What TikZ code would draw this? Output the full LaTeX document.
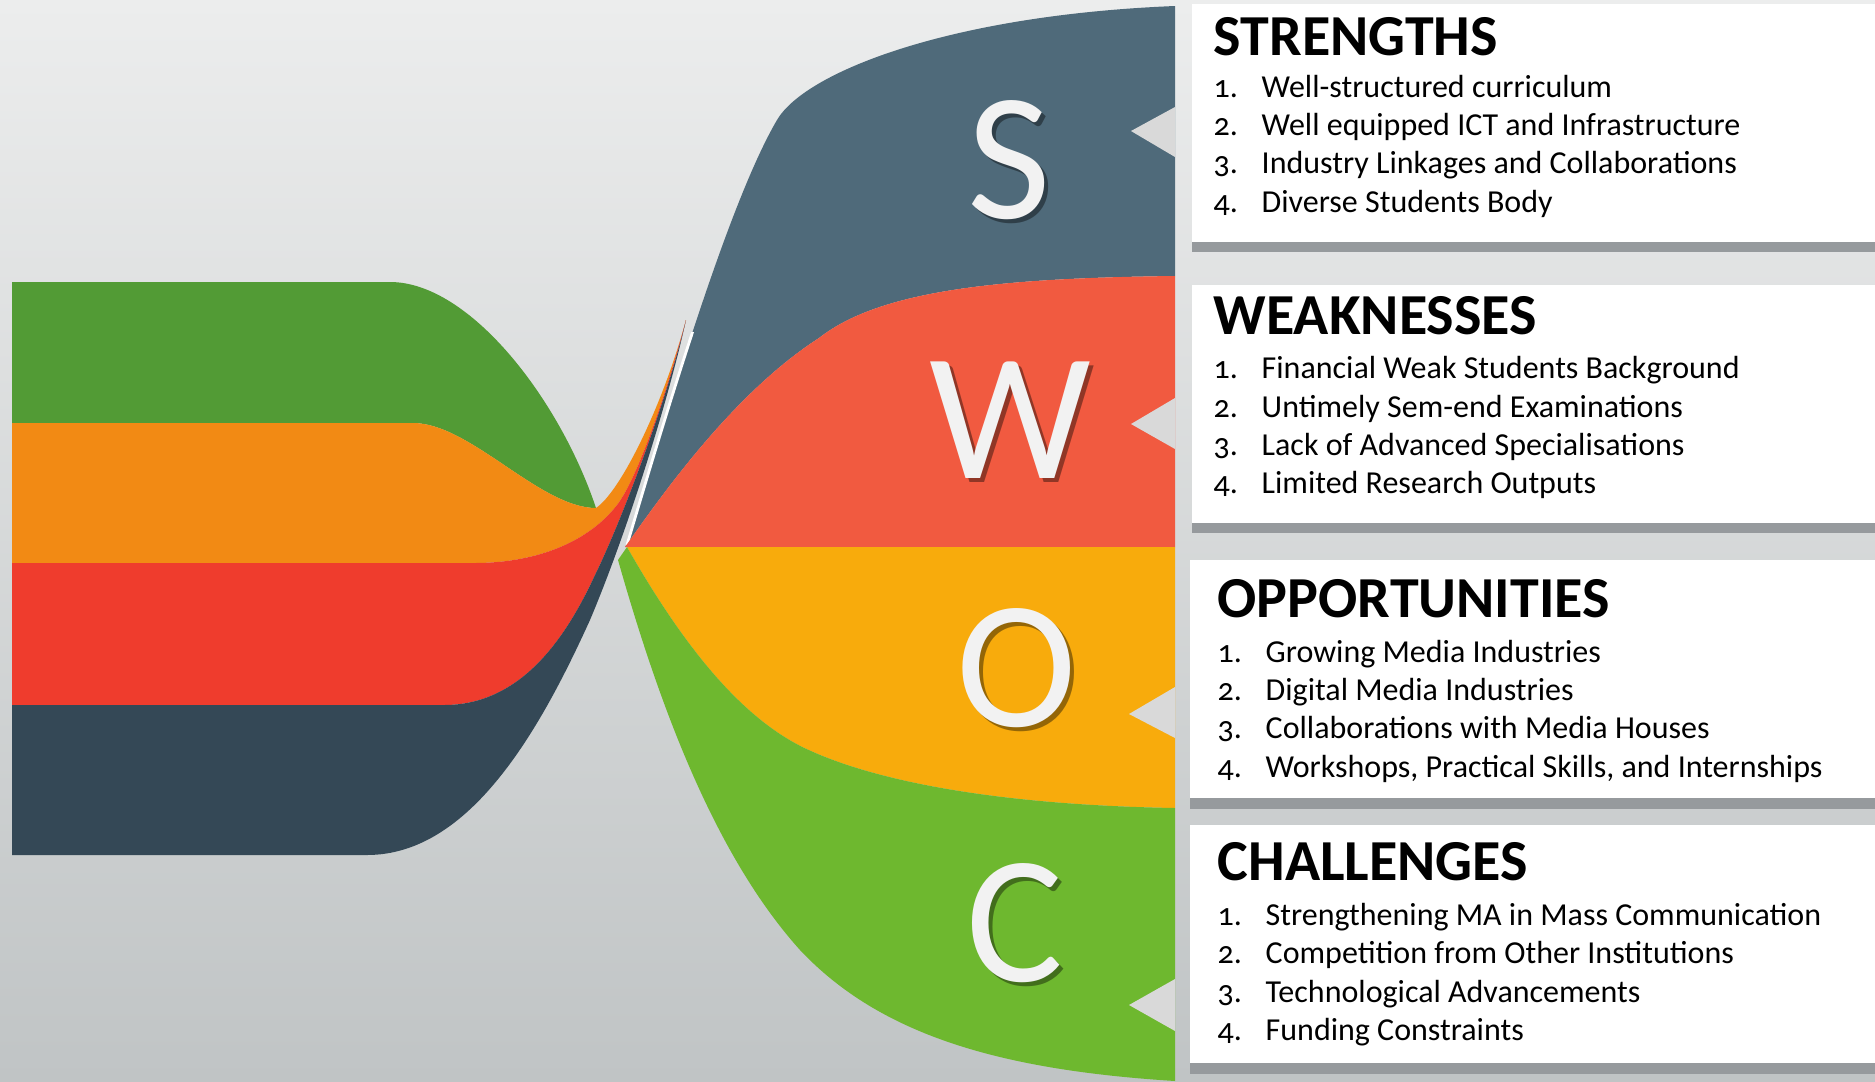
\documentclass[tikz,border=0pt]{standalone}
\usepackage{fontspec}
\setmainfont{Carlito}[Numbers=OldStyle]
\definecolor{bgtop}{HTML}{ECEDED}
\definecolor{bgmid}{HTML}{E5E7E7}
\definecolor{bgbot}{HTML}{C0C4C5}
\definecolor{lgreen}{HTML}{529B35}
\definecolor{lorange}{HTML}{F28A14}
\definecolor{lred}{HTML}{EF3C2D}
\definecolor{ldark}{HTML}{344856}
\definecolor{cS}{HTML}{4F6A7A}
\definecolor{cW}{HTML}{F15A40}
\definecolor{cO}{HTML}{F8AB0C}
\definecolor{cC}{HTML}{6EB82F}
\definecolor{tri}{HTML}{D9D9D9}
\definecolor{barc}{HTML}{969A9D}
\definecolor{letterc}{HTML}{F2F2F2}
\begin{document}
\begin{tikzpicture}[x=0.01cm,y=-0.01cm,
  titletext/.style={anchor=base west, inner sep=0pt, font=\fontsize{16.5pt}{19pt}\selectfont\bfseries},
  numtext/.style={anchor=base west, inner sep=0pt, font=\fontsize{9.1pt}{11pt}\selectfont},
  itemtext/.style={numtext},
  bigletter/.style={inner sep=0pt, font=\fontsize{51.7pt}{60pt}\selectfont, text=letterc},
  bigshadow/.style={inner sep=0pt, font=\fontsize{51.7pt}{60pt}\selectfont, text=black, text opacity=0.4},
  panel/.style={fill=white},
  panelbar/.style={fill=barc},
  pointer/.style={fill=tri}]
\useasboundingbox (0,0) rectangle (1875,1081);
% background
\shade[top color=bgtop, middle color=bgmid, bottom color=bgbot] (0,0) rectangle (1875,1081);
% left bands
\fill[lgreen] (12,282) -- (390,282) .. controls (470,282) and (560,400) .. (596,508)
  .. controls (540,508) and (470,423) .. (413,423) -- (12,423) -- cycle;
\fill[lorange] (12,423) -- (413,423) .. controls (470,423) and (540,508) .. (596,508)
  .. controls (620,492) and (662,408) .. (686,320)
  .. controls (665,398) and (637,479) .. (617,505)
  .. controls (590,540) and (540,563) .. (474,563) -- (12,563) -- cycle;
\fill[lred] (12,563) -- (474,563) .. controls (540,563) and (590,540) .. (617,505)
  .. controls (637,479) and (665,398) .. (686,320)
  .. controls (667,400) and (622,520) .. (595,575)
  .. controls (565,640) and (520,705) .. (444,705) -- (12,705) -- cycle;
\fill[ldark] (12,705) -- (444,705) .. controls (520,705) and (565,640) .. (595,575)
  .. controls (622,520) and (667,400) .. (686,320)
  .. controls (669,398) and (628,530) .. (590,620)
  .. controls (540,730) and (470,855) .. (367,855) -- (12,855) -- cycle;
% right fan
\fill[cS] (627,545) .. controls (670,400) and (730,200) .. (777,120)
  .. controls (805,72) and (950,15) .. (1175,6) -- (1175,276)
  .. controls (1000,278) and (880,290) .. (819,338)
  .. controls (730,395) and (655,505) .. (625,547) -- cycle;
\begin{scope}
  \clip (0,332) rectangle (760,560);
  \draw[white, line width=0.8pt] (627,545) .. controls (670,400) and (730,200) .. (777,120);
\end{scope}
\fill[cW] (625,547) .. controls (655,505) and (730,395) .. (819,338)
  .. controls (880,290) and (1000,278) .. (1175,276) -- (1175,547) -- cycle;
\fill[cO] (627,547) -- (1175,547) -- (1175,808)
  .. controls (1000,805) and (880,782) .. (811,751)
  .. controls (740,720) and (680,640) .. (627,547) -- cycle;
\fill[cC] (627,547) .. controls (680,640) and (740,720) .. (811,751)
  .. controls (880,782) and (1000,805) .. (1175,808) -- (1175,1081)
  .. controls (1000,1070) and (880,1035) .. (800,950)
  .. controls (710,850) and (655,690) .. (618,560) -- cycle;
% pointers
\fill[pointer] (1131,131) -- (1175,107) -- (1175,157) -- cycle;
\fill[pointer] (1131,424) -- (1175,398) -- (1175,449) -- cycle;
\fill[pointer] (1129,714) -- (1175,687) -- (1175,738) -- cycle;
\fill[pointer] (1129,1005) -- (1175,979) -- (1175,1031) -- cycle;
% big letters
\node[bigshadow] (Ssh) at (1013,164) {S};
\node[bigletter] (S) at (1009,160) {S};
\node[bigshadow] (Wsh) at (1014,424) {W};
\node[bigletter] (W) at (1010,420) {W};
\node[bigshadow] (Osh) at (1021,672) {O};
\node[bigletter] (O) at (1017,668) {O};
\node[bigshadow] (Csh) at (1019,927) {C};
\node[bigletter] (C) at (1015,923) {C};
% panels
\fill[panel] (1192,4) rectangle (1875,242);
\fill[panelbar] (1192,242) rectangle (1875,252);
\fill[panel] (1192,285) rectangle (1875,523);
\fill[panelbar] (1192,523) rectangle (1875,533);
\fill[panel] (1190,560) rectangle (1875,798);
\fill[panelbar] (1190,798) rectangle (1875,809);
\fill[panel] (1190,825) rectangle (1875,1063);
\fill[panelbar] (1190,1063) rectangle (1875,1074);
% strengths
\node[titletext] (st) at (1213,55) {STRENGTHS};
\node[numtext] (s1n) at (1213,97) {1.};
\node[itemtext] (s1) at (1261,97) {Well-structured curriculum};
\node[numtext] (s2n) at (1213,135) {2.};
\node[itemtext] (s2) at (1261,135) {Well equipped ICT and Infrastructure};
\node[numtext] (s3n) at (1213,173) {3.};
\node[itemtext] (s3) at (1261,173) {Industry Linkages and Collaborations};
\node[numtext] (s4n) at (1213,212) {4.};
\node[itemtext] (s4) at (1261,212) {Diverse Students Body};
% weaknesses
\node[titletext] (wt) at (1213,334) {WEAKNESSES};
\node[numtext] (w1n) at (1213,378) {1.};
\node[itemtext] (w1) at (1261,378) {Financial Weak Students Background};
\node[numtext] (w2n) at (1213,417) {2.};
\node[itemtext] (w2) at (1261,417) {Untimely Sem-end Examinations};
\node[numtext] (w3n) at (1213,455) {3.};
\node[itemtext] (w3) at (1261,455) {Lack of Advanced Specialisations};
\node[numtext] (w4n) at (1213,493) {4.};
\node[itemtext] (w4) at (1261,493) {Limited Research Outputs};
% opportunities
\node[titletext] (ot) at (1217,617) {OPPORTUNITIES};
\node[numtext] (o1n) at (1217,662) {1.};
\node[itemtext] (o1) at (1265,662) {Growing Media Industries};
\node[numtext] (o2n) at (1217,700) {2.};
\node[itemtext] (o2) at (1265,700) {Digital Media Industries};
\node[numtext] (o3n) at (1217,738) {3.};
\node[itemtext] (o3) at (1265,738) {Collaborations with Media Houses};
\node[numtext] (o4n) at (1217,777) {4.};
\node[itemtext] (o4) at (1265,777) {Workshops, Practical Skills, and Internships};
% challenges
\node[titletext] (ct) at (1217,880) {CHALLENGES};
\node[numtext] (c1n) at (1217,925) {1.};
\node[itemtext] (c1) at (1265,925) {Strengthening MA in Mass Communication};
\node[numtext] (c2n) at (1217,963) {2.};
\node[itemtext] (c2) at (1265,963) {Competition from Other Institutions};
\node[numtext] (c3n) at (1217,1002) {3.};
\node[itemtext] (c3) at (1265,1002) {Technological Advancements};
\node[numtext] (c4n) at (1217,1040) {4.};
\node[itemtext] (c4) at (1265,1040) {Funding Constraints};
\end{tikzpicture}
\end{document}
